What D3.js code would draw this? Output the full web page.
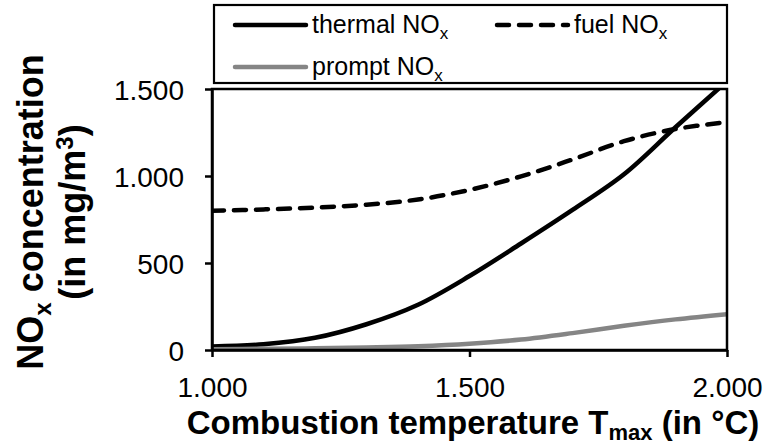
<!DOCTYPE html>
<html>
<head>
<meta charset="utf-8">
<script src="https://cdn.jsdelivr.net/npm/d3@7"></script>
<style>
  body { margin: 0; background: #fff; }
  svg { display: block; font-family: Arial, "Liberation Sans", sans-serif; }
</style>
</head>
<body>
<svg width="776" height="446"></svg>
<script>
// combustion temperature (°C)
const temps = [1000, 1100, 1200, 1300, 1400, 1500, 1600, 1700, 1800, 1900, 2000];
// NOx concentration (mg/m3)
const thermal = [20, 33, 70, 148, 260, 425, 612, 805, 1010, 1280, 1545];
const fuel = [800, 808, 818, 835, 865, 920, 998, 1095, 1200, 1270, 1310];
const prompt = [5, 7, 10, 15, 22, 36, 60, 97, 139, 176, 206];

const xTicks = [1000, 1500, 2000];
const yTicks = [0, 500, 1000, 1500];

const series = [
  { name: "thermal", values: thermal, color: "#000", dash: null },
  { name: "fuel", values: fuel, color: "#000", dash: "12,10" },
  { name: "prompt", values: prompt, color: "#858585", dash: null }
];

const width = 776;
const height = 446;
const margin = ({ top: 89, right: 49, bottom: 96, left: 212 });

const fmt = d3.formatLocale({ decimal: ",", thousands: ".", grouping: [3], currency: ["", ""] }).format(",");

const x = d3.scaleLinear()
    .domain([1000, 2000])
    .range([margin.left, width - margin.right]);

const y = d3.scaleLinear()
    .domain([0, 1500])
    .range([height - margin.bottom, margin.top]);

const svg = d3.select("svg")
    .attr("viewBox", [0, 0, width, height]);

svg.append("clipPath")
    .attr("id", "plot")
  .append("rect")
    .attr("x", margin.left)
    .attr("y", margin.top)
    .attr("width", width - margin.right - margin.left)
    .attr("height", height - margin.bottom - margin.top);

// lines
const line = d3.line()
    .x((d, i) => x(temps[i]))
    .y(d => y(d))
    .curve(d3.curveCatmullRom.alpha(0.5));

svg.append("g")
    .attr("clip-path", "url(#plot)")
  .selectAll("path")
  .data(series)
  .join("path")
    .attr("fill", "none")
    .attr("stroke", d => d.color)
    .attr("stroke-width", 4.5)
    .attr("stroke-linecap", "round")
    .attr("stroke-dasharray", d => d.dash)
    .attr("d", d => line(d.values));

// frame
svg.append("rect")
    .attr("x", margin.left)
    .attr("y", margin.top)
    .attr("width", width - margin.right - margin.left)
    .attr("height", height - margin.bottom - margin.top)
    .attr("fill", "none")
    .attr("stroke", "#000")
    .attr("stroke-width", 2.5);

const xAxis = g => g
    .attr("transform", `translate(0,${height - margin.bottom})`)
    .call(d3.axisBottom(x).tickValues(xTicks).tickFormat(fmt).tickSize(7).tickSizeOuter(0).tickPadding(20))
    .call(g => g.select(".domain").attr("stroke-width", 2.5))
    .call(g => g.selectAll(".tick line").attr("stroke-width", 2.5))
    .call(g => g.selectAll(".tick text").attr("font-size", 28).attr("font-family", null).attr("fill", "#000"));

const yAxis = g => g
    .attr("transform", `translate(${margin.left},0)`)
    .call(d3.axisLeft(y).tickValues(yTicks).tickFormat(fmt).tickSize(7).tickSizeOuter(0).tickPadding(21))
    .call(g => g.select(".domain").attr("stroke-width", 2.5))
    .call(g => g.selectAll(".tick line").attr("stroke-width", 2.5))
    .call(g => g.selectAll(".tick text").attr("font-size", 28).attr("font-family", null).attr("fill", "#000").attr("dy", "0.38em"));

svg.append("g").call(xAxis);
svg.append("g").call(yAxis);

// axis titles
const xt = svg.append("text")
    .attr("x", 473)
    .attr("y", 434)
    .attr("text-anchor", "middle")
    .attr("font-size", 33)
    .attr("font-weight", "bold");
xt.append("tspan").text("Combustion temperature T");
xt.append("tspan").attr("font-size", 22).attr("dy", 6).text("max");
xt.append("tspan").attr("dy", -6).text(" (in °C)");

const yt = svg.append("g")
    .attr("transform", "translate(0,212) rotate(-90)")
    .attr("font-size", 36)
    .attr("font-weight", "bold")
    .attr("text-anchor", "middle");
const y1 = yt.append("text").attr("x", 0).attr("y", 43);
y1.append("tspan").text("NO");
y1.append("tspan").attr("font-size", 24).attr("dy", 8).text("x");
y1.append("tspan").attr("dy", -8).text(" concentration");
const y2 = yt.append("text").attr("x", 0).attr("y", 85);
y2.append("tspan").text("(in mg/m");
y2.append("tspan").attr("font-size", 24).attr("dy", -12).text("3");
y2.append("tspan").attr("dy", 12).text(")");

// legend
svg.append("rect")
    .attr("x", 214)
    .attr("y", 5)
    .attr("width", 513)
    .attr("height", 78)
    .attr("fill", "#fff")
    .attr("stroke", "#000")
    .attr("stroke-width", 2.2);

const legendItems = [
  { s: series[0], label: "thermal NO", lx: 233, ly: 25 },
  { s: series[1], label: "fuel NO", lx: 495, ly: 25 },
  { s: series[2], label: "prompt NO", lx: 233, ly: 67 }
];

const lg = svg.append("g")
  .selectAll("g")
  .data(legendItems)
  .join("g")
    .attr("transform", d => `translate(${d.lx},${d.ly})`);

lg.append("line")
    .attr("x1", 2)
    .attr("x2", 73)
    .attr("stroke", d => d.s.color)
    .attr("stroke-width", 4.5)
    .attr("stroke-linecap", "round")
    .attr("stroke-dasharray", d => d.s.dash);

const lt = lg.append("text")
    .attr("x", 79)
    .attr("y", 8)
    .attr("font-size", 25)
    .attr("fill", "#000");
lt.append("tspan").text(d => d.label);
lt.append("tspan").attr("font-size", 17).attr("dy", 6).text("x");
</script>
</body>
</html>
